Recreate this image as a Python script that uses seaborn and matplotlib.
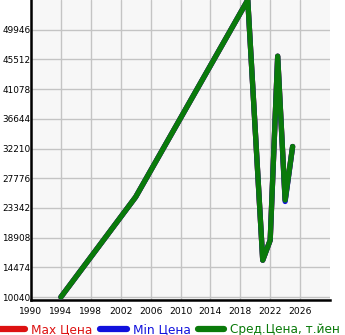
import matplotlib
matplotlib.use("Agg")
import matplotlib.pyplot as plt
import seaborn as sns
import pandas as pd
from matplotlib.lines import Line2D

years = [1994, 2004, 2019, 2021, 2022, 2023, 2024, 2025]
avg_price = [10040, 24975, 54380, 15540, 18530, 45990, 24520, 32510]
max_price = [10040, 24975, 54380, 15540, 18530, 45990, 24520, 32510]
min_price = [10040, 24975, 54380, 15540, 18530, 45990, 24300, 32510]
ytick_vals = [10040, 14474, 18908, 23342, 27776, 32210, 36644, 41078, 45512, 49946]
xtick_vals = [1990, 1994, 1998, 2002, 2006, 2010, 2014, 2018, 2022, 2026]
legend_labels = ["Max Цена", "Min Цена", "Сред.Цена, т.йен"]

sns.set_style("whitegrid")
plt.rcParams['font.family'] = ['DejaVu Sans']

fig = plt.figure(figsize=(3.45, 3.35), dpi=100)
ax = fig.add_axes([31/345, 35/335, 299/345, 300/335])
ax.set_facecolor("#f7f7f7")

df = pd.DataFrame({"year": years, "avg": avg_price, "max": max_price, "min": min_price})
red, blue, green = "#dd1111", "#1111dd", "#0a7a0a"
lw = 3.8
sns.lineplot(data=df, x="year", y="max", ax=ax, color=red, linewidth=lw, zorder=3)
sns.lineplot(data=df, x="year", y="min", ax=ax, color=blue, linewidth=lw, zorder=4)
sns.lineplot(data=df, x="year", y="avg", ax=ax, color=green, linewidth=lw, zorder=5)

ax.set_xlim(1990, 2030)
ax.set_ylim(9600, 54380)
ax.set_xticks(xtick_vals)
ax.set_yticks(ytick_vals)
ax.set_xticklabels([str(v) for v in xtick_vals], fontsize=6.6)
ax.set_yticklabels([str(v) for v in ytick_vals], fontsize=6.4)
ax.tick_params(axis="x", length=0, pad=5, colors="black")
ax.tick_params(axis="y", length=0, pad=0.3, colors="black")
ax.grid(True, color="#c4c4c4", linewidth=1)
ax.set_xlabel("")
ax.set_ylabel("")
for s in ["top", "right"]:
    ax.spines[s].set_visible(False)
for s in ["left", "bottom"]:
    ax.spines[s].set_color("black")
    ax.spines[s].set_linewidth(1.8)

handles = [Line2D([0], [0], color=c, linewidth=4.5, solid_capstyle="round") for c in (red, blue, green)]
leg = fig.legend(handles, legend_labels, loc="lower left", bbox_to_anchor=(-0.035, -0.035),
                 ncol=3, frameon=False, fontsize=8.7, handlelength=2.2, handletextpad=0.5,
                 columnspacing=0.6)
for t, c in zip(leg.get_texts(), (red, blue, green)):
    t.set_color(c)

fig.savefig("out.png", dpi=100)
